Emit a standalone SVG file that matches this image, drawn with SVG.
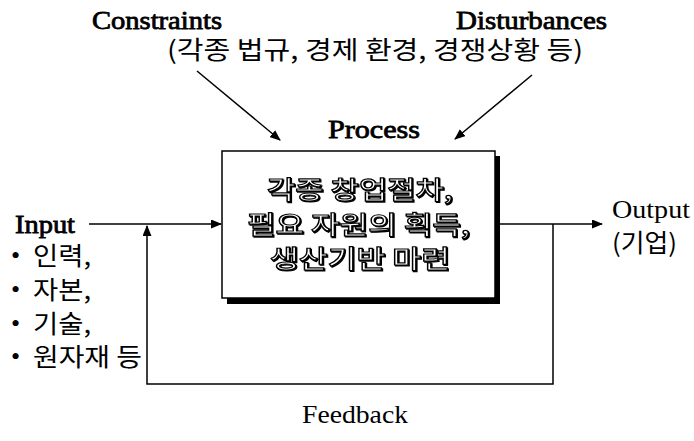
<svg xmlns="http://www.w3.org/2000/svg" width="694" height="441" viewBox="0 0 694 441">
  <style>
    .lbl { font-family: "Liberation Serif", "Times New Roman", serif; font-size: 26px; fill: #000; }
    .b { stroke: #000; stroke-width: 0.8; }
    .kr { font-family: "Noto Sans CJK KR", "Noto Sans", sans-serif; font-size: 25px; fill: #000; }
    .kbox { font-family: "Noto Sans CJK KR", sans-serif; font-size: 25px; font-weight: 500; fill: #fff; stroke: #000; stroke-width: 1.2; filter: url(#outlineShadow); }
    .line { fill: none; stroke: #000; stroke-width: 1.5; }
  </style>
  <defs>
    <marker id="arrow" markerUnits="userSpaceOnUse" markerWidth="11" markerHeight="9" refX="10" refY="4.5" orient="auto">
      <path d="M0,0 L11,4.5 L0,9 z" fill="#000"/>
    </marker>
    <!-- hollow lettering with a small dark offset copy behind it -->
    <filter id="outlineShadow" x="-5%" y="-20%" width="110%" height="140%">
      <feOffset in="SourceAlpha" dx="1.2" dy="1.2" result="off"/>
      <feMerge>
        <feMergeNode in="off"/>
        <feMergeNode in="SourceGraphic"/>
      </feMerge>
    </filter>
  </defs>

  <rect width="694" height="441" fill="#fff"/>

  <!-- connectors -->
  <g id="connectors">
    <line class="line" x1="197" y1="71" x2="280" y2="140" marker-end="url(#arrow)"/>
    <line class="line" x1="532" y1="75" x2="455" y2="139" marker-end="url(#arrow)"/>
    <line class="line" x1="89" y1="224" x2="221" y2="224" marker-end="url(#arrow)"/>
    <line class="line" x1="500" y1="224" x2="602" y2="224" marker-end="url(#arrow)"/>
    <polyline class="line" points="553,224 553,384 147,384 147,226" marker-end="url(#arrow)"/>
  </g>

  <!-- environment labels -->
  <g id="constraints">
    <text class="lbl b" x="92" y="29" textLength="130" lengthAdjust="spacingAndGlyphs">Constraints</text>
  </g>
  <g id="disturbances">
    <text class="lbl b" x="456" y="29" textLength="151" lengthAdjust="spacingAndGlyphs">Disturbances</text>
  </g>
  <g id="environment-note">
    <text class="kr" x="167" y="59" font-size="24" textLength="416" lengthAdjust="spacingAndGlyphs">(각종 법규, 경제 환경, 경쟁상황 등)</text>
  </g>

  <!-- process box -->
  <g id="process">
    <text class="lbl b" x="328" y="138" textLength="92" lengthAdjust="spacingAndGlyphs">Process</text>
    <rect x="227" y="156" width="273" height="148" fill="#000"/>
    <rect x="222" y="151" width="273" height="147" fill="#fff" stroke="#000" stroke-width="1.5"/>
    <text class="kbox" x="267" y="199" textLength="186" lengthAdjust="spacingAndGlyphs">각종 창업절차,</text>
    <text class="kbox" x="247" y="234" textLength="223" lengthAdjust="spacingAndGlyphs">필요 자원의 획득,</text>
    <text class="kbox" x="270" y="268" textLength="180" lengthAdjust="spacingAndGlyphs">생산기반 마련</text>
  </g>

  <!-- input -->
  <g id="input">
    <text class="lbl b" x="15" y="233" textLength="60" lengthAdjust="spacingAndGlyphs">Input</text>
    <text class="lbl" x="11" y="264" font-size="29">•</text>
    <text class="lbl" x="11" y="298" font-size="29">•</text>
    <text class="lbl" x="11" y="332" font-size="29">•</text>
    <text class="lbl" x="11" y="365" font-size="29">•</text>
    <text class="kr" x="33" y="265" textLength="58" lengthAdjust="spacingAndGlyphs">인력,</text>
    <text class="kr" x="33" y="299" textLength="58" lengthAdjust="spacingAndGlyphs">자본,</text>
    <text class="kr" x="33" y="333" textLength="58" lengthAdjust="spacingAndGlyphs">기술,</text>
    <text class="kr" x="33" y="366" textLength="109" lengthAdjust="spacingAndGlyphs">원자재 등</text>
  </g>

  <!-- output -->
  <g id="output">
    <text class="lbl" x="612" y="218" textLength="78" lengthAdjust="spacingAndGlyphs">Output</text>
    <text class="kr" x="612" y="252" textLength="65" lengthAdjust="spacingAndGlyphs">(기업)</text>
  </g>

  <!-- feedback -->
  <g id="feedback">
    <text class="lbl" x="302" y="423" textLength="106" lengthAdjust="spacingAndGlyphs">Feedback</text>
  </g>
</svg>
